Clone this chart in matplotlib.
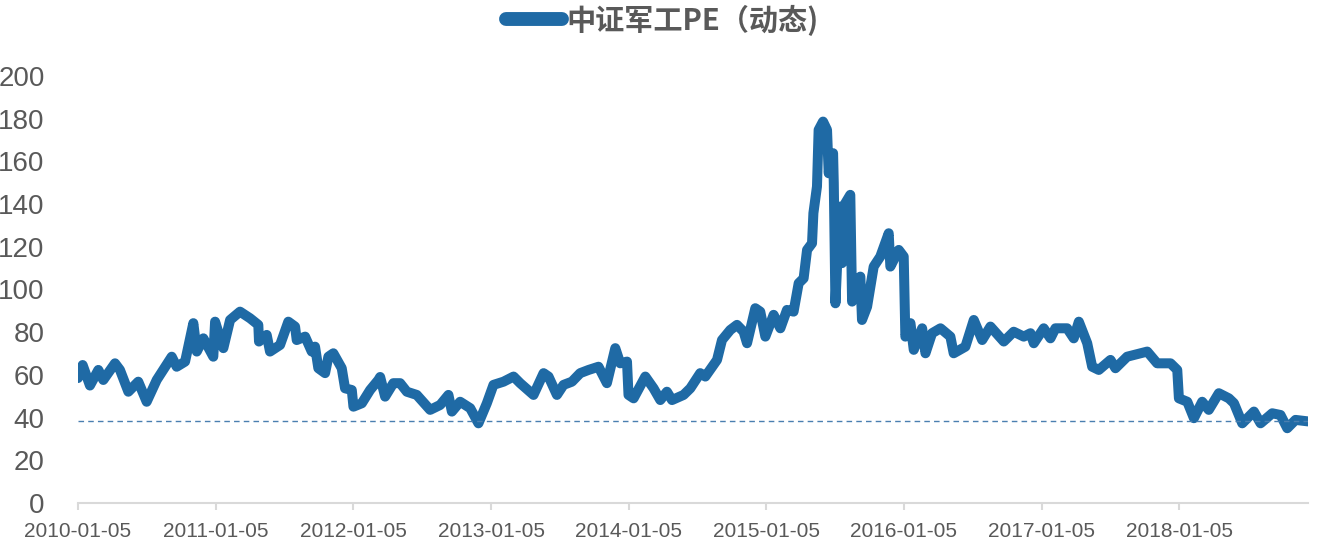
import numpy as np
import pandas as pd
import matplotlib
matplotlib.use("Agg")
import matplotlib.pyplot as plt

# years elapsed since 2010-01-05 and PE value
t_years = [0.000, 0.034, 0.087, 0.148, 0.184, 0.269, 0.305, 0.366, 0.438, 0.499,
           0.572, 0.681, 0.717, 0.778, 0.838, 0.863, 0.911, 0.983, 0.996, 1.056,
           1.105, 1.177, 1.250, 1.310, 1.315, 1.371, 1.395, 1.468, 1.528, 1.577,
           1.589, 1.650, 1.698, 1.722, 1.746, 1.795, 1.819, 1.855, 1.916, 1.940,
           1.989, 2.001, 2.062, 2.122, 2.182, 2.195, 2.231, 2.291, 2.340, 2.389,
           2.461, 2.558, 2.631, 2.691, 2.716, 2.776, 2.849, 2.909, 2.970, 3.018,
           3.091, 3.164, 3.212, 3.309, 3.382, 3.418, 3.479, 3.527, 3.588, 3.648,
           3.709, 3.781, 3.842, 3.903, 3.939, 3.988, 3.999, 4.036, 4.121, 4.181,
           4.230, 4.278, 4.315, 4.399, 4.448, 4.520, 4.557, 4.642, 4.678, 4.738,
           4.787, 4.835, 4.860, 4.920, 4.956, 4.993, 5.053, 5.102, 5.150, 5.198,
           5.235, 5.271, 5.296, 5.332, 5.342, 5.368, 5.380, 5.412, 5.441, 5.453,
           5.485, 5.490, 5.502, 5.533, 5.550, 5.574, 5.610, 5.623, 5.683, 5.695,
           5.732, 5.780, 5.828, 5.889, 5.901, 5.962, 5.998, 6.010, 6.047, 6.071,
           6.132, 6.156, 6.204, 6.265, 6.337, 6.361, 6.446, 6.507, 6.568, 6.628,
           6.725, 6.797, 6.870, 6.919, 6.943, 7.015, 7.064, 7.100, 7.185, 7.233,
           7.270, 7.331, 7.367, 7.415, 7.500, 7.536, 7.621, 7.767, 7.839, 7.936,
           7.985, 7.997, 8.058, 8.106, 8.166, 8.214, 8.287, 8.360, 8.397, 8.457,
           8.542, 8.590, 8.675, 8.735, 8.784, 8.844, 8.935]
pe = [58.5, 64.6, 55.0, 62.3, 57.6, 65.4, 62.3, 52.1, 56.8, 47.4,
      57.6, 68.5, 63.8, 66.2, 84.2, 70.9, 77.1, 68.5, 84.9, 72.5,
      85.7, 89.6, 86.5, 83.4, 75.6, 78.7, 70.9, 74.0, 84.9, 82.6,
      76.3, 77.9, 70.9, 73.2, 63.1, 60.8, 68.5, 70.1, 63.1, 53.7,
      52.9, 45.1, 46.7, 52.9, 57.6, 59.0, 49.8, 56.1, 56.1, 52.1,
      50.6, 43.6, 45.9, 50.6, 42.8, 47.4, 44.4, 37.3, 46.7, 55.3,
      56.8, 59.2, 56.1, 50.6, 60.8, 59.2, 50.6, 55.3, 56.8, 60.8,
      62.3, 63.8, 56.1, 72.5, 65.4, 66.2, 50.6, 49.0, 59.2, 53.7,
      48.2, 52.1, 48.2, 50.6, 53.7, 60.8, 59.2, 67.0, 76.3, 81.0,
      83.4, 80.2, 74.8, 91.2, 89.6, 77.9, 88.1, 81.8, 90.4, 89.6,
      102.9, 105.2, 118.5, 121.6, 135.7, 148.2, 174.7, 178.6, 174.7, 154.4,
      163.8, 149.8, 93.5, 138.8, 112.3, 140.4, 144.3, 94.3, 106.0, 85.7,
      91.9, 110.7, 115.4, 126.3, 110.7, 118.5, 115.4, 77.9, 84.2, 71.7,
      81.8, 70.1, 79.5, 81.8, 77.9, 70.1, 73.2, 85.7, 76.3, 82.6,
      75.6, 80.2, 77.9, 79.5, 74.8, 81.8, 77.1, 81.8, 81.8, 77.1,
      84.9, 74.8, 63.8, 62.3, 67.0, 63.1, 68.5, 70.9, 65.4, 65.4,
      62.3, 49.0, 47.4, 39.7, 47.4, 43.6, 51.4, 49.0, 46.7, 37.3,
      42.8, 37.3, 42.0, 41.2, 35.0, 38.9, 38.2]
current_pe = 38.2
tick_labels = ["2010-01-05", "2011-01-05", "2012-01-05", "2013-01-05", "2014-01-05",
               "2015-01-05", "2016-01-05", "2017-01-05", "2018-01-05"]
series_name = "中证军工PE（动态)"

start = pd.Timestamp("2010-01-05")
dates = start + pd.to_timedelta(np.array(t_years) * 365.25, unit="D")
end = dates[-1]

blue = "#1f6aa5"
grey = "#595959"

fig = plt.figure(figsize=(13.17, 5.42), dpi=100)
ax = fig.add_axes([0.0592, 0.072, 0.934, 0.788])

ax.plot(dates, pe, color=blue, lw=7.2, solid_capstyle="round",
        solid_joinstyle="round", label=series_name)
ax.plot([start, end], [current_pe, current_pe], color="#4a7fb0", lw=1.0,
        ls=(0, (4, 3)))

ax.set_xlim(start, end)
ax.set_ylim(0, 200)
ax.set_yticks(np.arange(0, 201, 20))
ax.set_xticks(pd.to_datetime(tick_labels))
ax.set_xticklabels(tick_labels)

for s in ["top", "right", "left"]:
    ax.spines[s].set_visible(False)
ax.spines["bottom"].set_color("#d9d9d9")
ax.spines["bottom"].set_linewidth(1.5)

ax.tick_params(axis="y", length=0, pad=24, labelsize=20, labelcolor=grey,
               labelfontfamily="Liberation Sans")
ax.tick_params(axis="x", length=5, width=1.5, color="#d9d9d9", pad=9,
               labelsize=15, labelcolor=grey, labelfontfamily="Liberation Sans")

leg = fig.legend(loc="center", bbox_to_anchor=(0.503, 0.963), frameon=False,
                 handlelength=1.9, handletextpad=0.15,
                 prop={"family": ["Noto Sans CJK SC", "DejaVu Sans"],
                       "weight": "bold", "size": 21})
for line in leg.get_lines():
    line.set_linewidth(10)
    line.set_solid_capstyle("round")
for txt in leg.get_texts():
    txt.set_color(grey)

fig.savefig("out.png", dpi=100)
